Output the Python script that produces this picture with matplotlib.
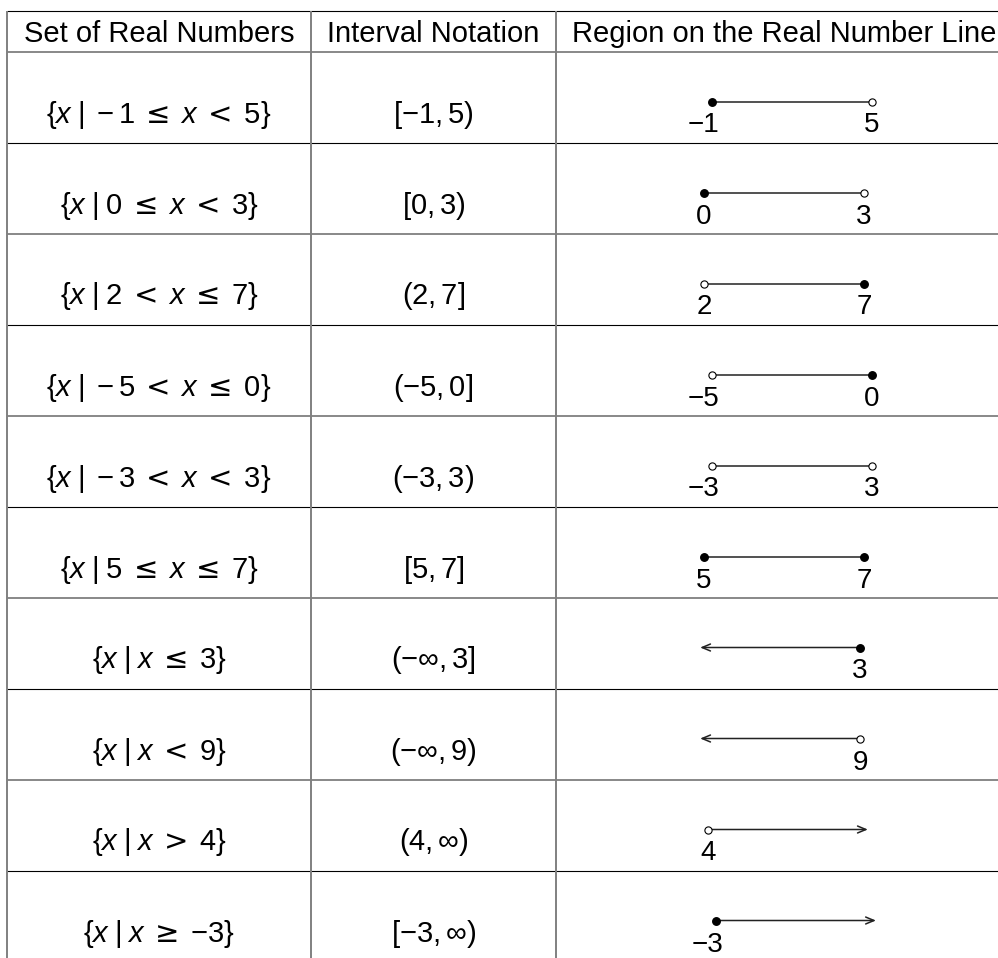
import matplotlib
matplotlib.use('Agg')
import matplotlib.pyplot as plt

#   fonts: Helvetica-like text and sans serif maths
plt.rcParams['font.family'] = ['Liberation Sans', 'DejaVu Sans']
plt.rcParams['mathtext.fontset'] = 'custom'
plt.rcParams['mathtext.rm'] = 'Liberation Sans'
plt.rcParams['mathtext.it'] = 'Liberation Sans:italic'
plt.rcParams['mathtext.bf'] = 'Liberation Sans:bold'
plt.rcParams['mathtext.sf'] = 'DejaVu Sans'   # wider relation signs

# table content
headers = ['Set of Real Numbers', 'Interval Notation', 'Region on the Real Number Line']

sets = [r'$\{x\;|\;-1\;\mathsf{\leq}\;x\;\mathsf{<}\;5\}$',
        r'$\{x\;|\;0\;\mathsf{\leq}\;x\;\mathsf{<}\;3\}$',
        r'$\{x\;|\;2\;\mathsf{<}\;x\;\mathsf{\leq}\;7\}$',
        r'$\{x\;|\;-5\;\mathsf{<}\;x\;\mathsf{\leq}\;0\}$',
        r'$\{x\;|\;-3\;\mathsf{<}\;x\;\mathsf{<}\;3\}$',
        r'$\{x\;|\;5\;\mathsf{\leq}\;x\;\mathsf{\leq}\;7\}$',
        r'$\{x\;|\;x\;\mathsf{\leq}\;3\}$',
        r'$\{x\;|\;x\;\mathsf{<}\;9\}$',
        r'$\{x\;|\;x\;\mathsf{>}\;4\}$',
        r'$\{x\;|\;x\;\mathsf{\geq}\;{-}3\}$']

intervals = [r'$[-1, 5)$', r'$[0, 3)$', r'$(2, 7]$', r'$(-5, 0]$', r'$(-3, 3)$',
             r'$[5, 7]$', r'$(-\infty, 3]$', r'$(-\infty, 9)$', r'$(4, \infty)$',
             r'$[-3, \infty)$']

# endpoints (None = infinite) and whether they are included
lefts = [-1, 0, 2, -5, -3, 5, None, None, 4, -3]
rights = [5, 3, 7, 0, 3, 7, 3, 9, None, None]
left_closed = [True, True, False, False, False, True, None, None, False, True]
right_closed = [False, False, True, True, False, True, True, False, None, None]

# layout in pixels
W, H = 998, 958
col_edges = [7, 311, 556, 1012]
top = 10.5
head_bottom = 52
row_h = 91
seg_len = 160
fs = 21
fs_head = 21
fs_lab = 20
em = fs_lab / 72 * 100
hw_px = 0.278 * em      # half a digit
mw_px = 0.584 * em      # minus sign

fig = plt.figure(figsize=(W / 100, H / 100), dpi=100)
ax = fig.add_axes([0, 0, 1, 1])
ax.set_xlim(0, W)
ax.set_ylim(H, 0)
ax.axis('off')

n = len(sets)
h_lines = [top, head_bottom] + [head_bottom + row_h * (i + 1) for i in range(n)]
for k, y in enumerate(h_lines):
    if k % 2 == 0:
        ax.plot([col_edges[0], W + 20], [y, y], color='black', lw=0.8, solid_capstyle='butt')
    else:
        ax.plot([col_edges[0], W + 20], [y, y], color='#888888', lw=1.4, solid_capstyle='butt')
for x in col_edges:
    ax.plot([x, x], [top, H + 20], color='#808080', lw=1.4, solid_capstyle='butt')

col_c = [(col_edges[i] + col_edges[i + 1]) / 2 for i in range(3)]

for j, t in enumerate(headers):
    ax.text(col_c[j], 42, t, ha='center', va='baseline', fontsize=fs_head)


def label_text(v):
    return ('\u2212' + str(-v)) if v < 0 else str(v)


for i in range(n):
    yc = head_bottom + row_h * i + row_h / 2
    ax.text(col_c[0], yc + 25, sets[i], ha='center', va='baseline', fontsize=fs)
    ax.text(col_c[1], yc + 25, intervals[i], ha='center', va='baseline', fontsize=fs)

    a, b = lefts[i], rights[i]
    # extents of the little picture so that it is centred in the cell
    left_ext = (hw_px + (mw_px if a < 0 else 0)) if a is not None else 0
    right_ext = hw_px if b is not None else 0
    x0 = col_c[2] - (seg_len + right_ext - left_ext) / 2
    yl = yc + 4

    if a is not None and b is not None:
        lo, hi = a, b
    elif a is None:
        lo, hi = b - 1, b
    else:
        lo, hi = a, a + 1

    box_h = 20
    nax = fig.add_axes([x0 / W, 1 - (yl + box_h / 2) / H, seg_len / W, box_h / H])
    nax.set_xlim(lo, hi)
    nax.set_ylim(-1, 1)
    nax.axis('off')

    if a is not None and b is not None:
        nax.plot([a, b], [0, 0], color='#222222', lw=1.1, solid_capstyle='butt')
    elif a is None:
        nax.annotate('', xy=(lo, 0), xytext=(b, 0),
                     arrowprops=dict(arrowstyle='->,head_length=0.6,head_width=0.25',
                                     color='#222222', lw=1.1, shrinkA=0, shrinkB=0))
    else:
        nax.annotate('', xy=(hi, 0), xytext=(a, 0),
                     arrowprops=dict(arrowstyle='->,head_length=0.6,head_width=0.25',
                                     color='#222222', lw=1.1, shrinkA=0, shrinkB=0))

    for v, closed in [(a, left_closed[i]), (b, right_closed[i])]:
        if v is None:
            continue
        if closed:
            nax.plot([v], [0], 'o', ms=5.4, color='black', clip_on=False, zorder=5)
        else:
            nax.plot([v], [0], 'o', ms=5.2, mfc='white', mec='black', mew=0.8,
                     clip_on=False, zorder=5)
        nax.annotate(label_text(v), xy=(v, 0), xytext=(hw_px * 0.72, -31 * 0.72),
                     textcoords='offset points', ha='right', va='baseline',
                     fontsize=fs_lab, annotation_clip=False)

fig.savefig('out.png', dpi=100)
